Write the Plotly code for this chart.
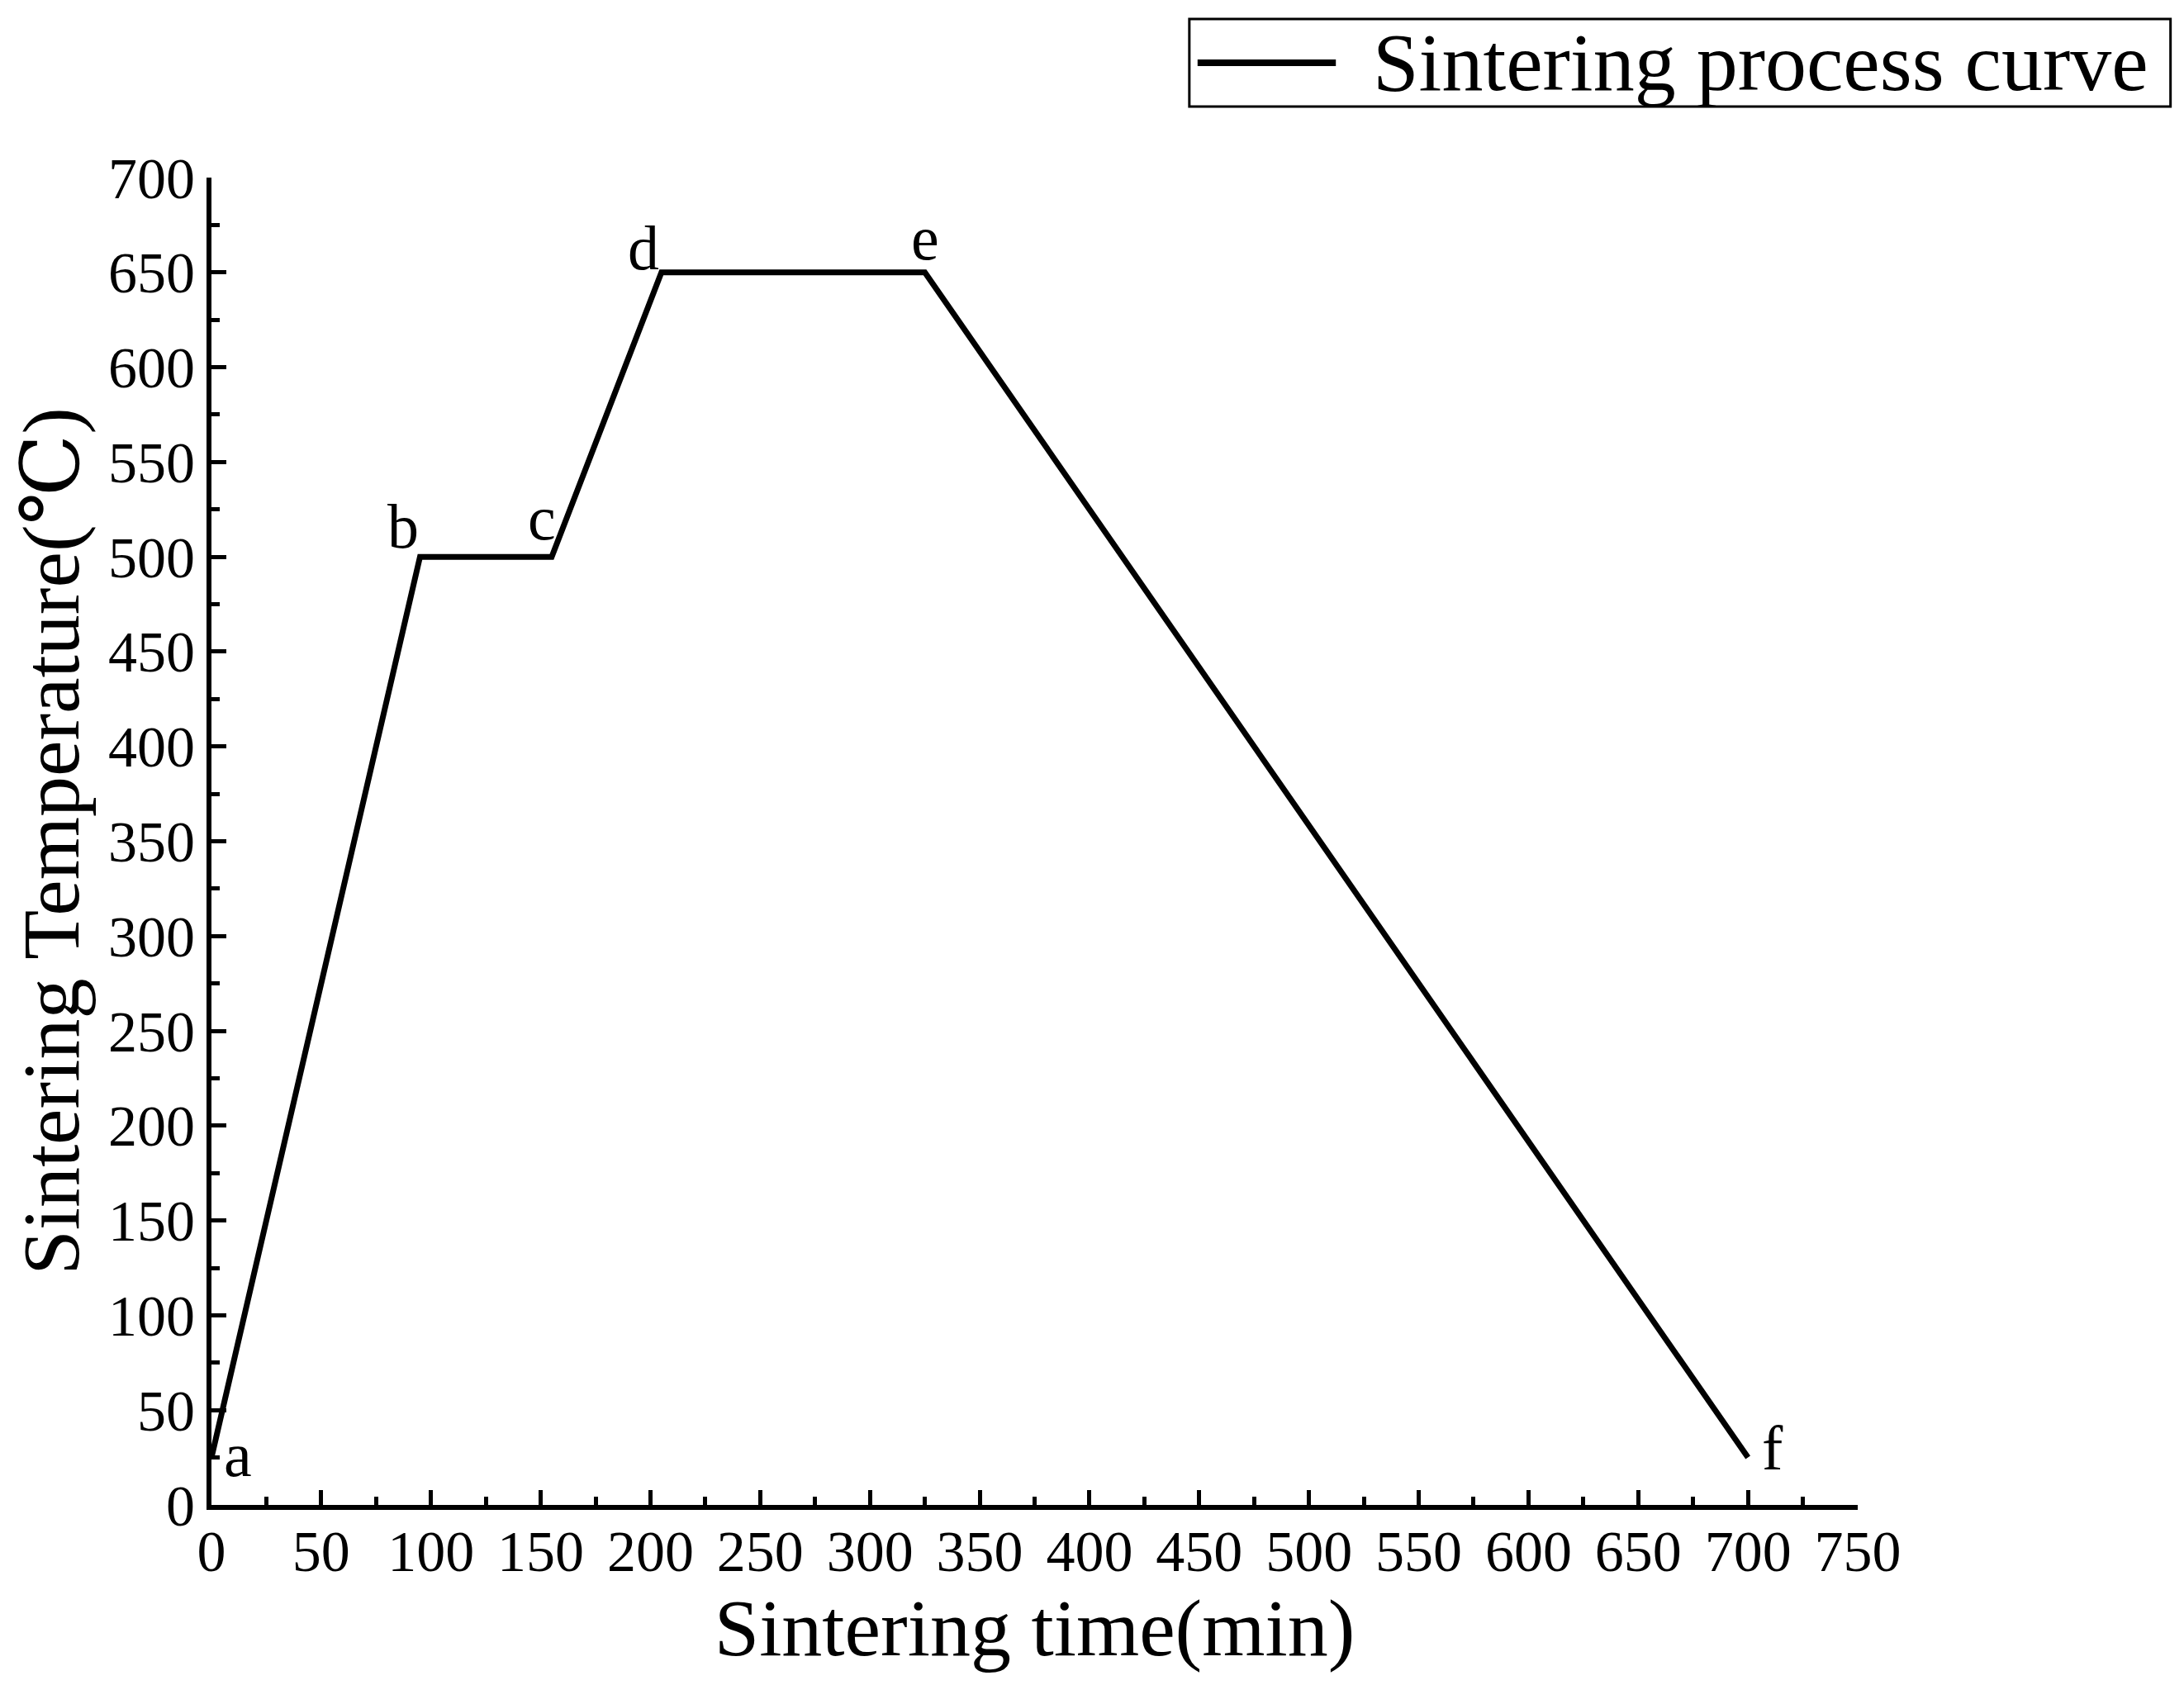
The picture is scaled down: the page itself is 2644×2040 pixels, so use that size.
import plotly.graph_objects as go

# 焼結プロセス曲線のデータ
time_min = [0, 95, 155, 205, 325, 700]
temperature = [25, 500, 500, 650, 650, 25]
point_labels = ["a", "b", "c", "d", "e", "f"]
# ラベルのずらし量 (px)
label_xshift = [32, -20, -12, -22, 0, 30]
label_yshift = [4, 37, 47, 30, 42, 12]

x_ticks = list(range(0, 751, 50))
y_ticks = list(range(0, 701, 50))

FONT = "Liberation Serif, DejaVu Serif, serif"

fig = go.Figure()

fig.add_trace(
    go.Scatter(
        x=time_min,
        y=temperature,
        mode="lines",
        name="Sintering process curve",
        line=dict(color="black", width=7),
        showlegend=False,
        cliponaxis=False,
    )
)

# 各点のラベル
for x, y, t, dx, dy in zip(time_min, temperature, point_labels, label_xshift, label_yshift):
    fig.add_annotation(
        x=x, y=y, text=t, showarrow=False,
        xshift=dx, yshift=dy,
        font=dict(family=FONT, size=76, color="black"),
    )

# 凡例（枠・線・テキスト）
fig.add_shape(
    type="rect", xref="paper", yref="paper",
    x0=0.594, x1=1.190, y0=1.0535, y1=1.1195,
    line=dict(color="black", width=3), fillcolor="white",
)
fig.add_shape(
    type="line", xref="paper", yref="paper",
    x0=0.599, x1=0.683, y0=1.0865, y1=1.0865,
    line=dict(color="black", width=8),
)
fig.add_annotation(
    xref="paper", yref="paper", x=0.7045, y=1.0865,
    xanchor="left", yanchor="middle", showarrow=False,
    text="Sintering process curve",
    font=dict(family=FONT, size=100, color="black"),
)

axis_common = dict(
    showgrid=False,
    zeroline=False,
    showline=True,
    linecolor="black",
    linewidth=6,
    ticks="inside",
    ticklen=18,
    tickwidth=5,
    tickcolor="black",
    tickfont=dict(family=FONT, size=70, color="black"),
    minor=dict(ticks="inside", ticklen=10, tickwidth=5, tickcolor="black", dtick=25),
    mirror=False,
)

fig.update_layout(
    width=2644,
    height=2040,
    plot_bgcolor="white",
    paper_bgcolor="white",
    margin=dict(l=248, r=403, t=207, b=226),
    xaxis=dict(
        **axis_common,
        range=[0, 750],
        tickvals=x_ticks,
        ticklabelstandoff=-10,
        title=dict(text="Sintering time(min)", font=dict(family=FONT, size=98, color="black"), standoff=20),
    ),
    yaxis=dict(
        **axis_common,
        range=[0, 700],
        tickvals=y_ticks,
        title=dict(text="Sintering Temperature(℃)", font=dict(family=FONT, size=98, color="black"), standoff=24),
    ),
)

fig.write_html("out.html")
